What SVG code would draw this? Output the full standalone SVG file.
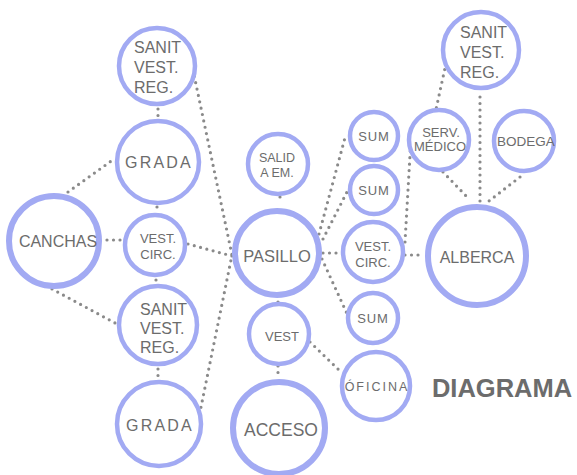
<svg xmlns="http://www.w3.org/2000/svg" width="577" height="475" viewBox="0 0 577 475">
<style>
.n{fill:#fff;stroke:#a2aaf3;stroke-width:4.5}
.b{stroke-width:6}
.t{font-family:"Liberation Sans",Arial,sans-serif;fill:#6c6c6c;text-anchor:middle}
.l{text-anchor:start}
.c{fill:none;stroke:#8a8a8a;stroke-width:3.2;stroke-linecap:round;stroke-dasharray:0 6.5}
</style>
<rect width="577" height="475" fill="#fff"/>
<g id="connectors">
<line class="c" x1="158" y1="109" x2="158" y2="116"/>
<path class="c" d="M193 70 L232 255 L200 412"/>
<line class="c" x1="68" y1="192" x2="114" y2="159"/>
<line class="c" x1="107" y1="240" x2="123" y2="240"/>
<line class="c" x1="52" y1="289" x2="115" y2="323"/>
<line class="c" x1="157" y1="207" x2="157" y2="212"/>
<line class="c" x1="156" y1="280" x2="156" y2="284"/>
<line class="c" x1="158" y1="369" x2="158" y2="377"/>
<line class="c" x1="188" y1="244" x2="232" y2="256"/>
<line class="c" x1="280" y1="197" x2="280" y2="203"/>
<line class="c" x1="278" y1="302" x2="278" y2="309"/>
<line class="c" x1="278" y1="366" x2="278" y2="373"/>
<line class="c" x1="310" y1="342" x2="341" y2="372"/>
<line class="c" x1="319" y1="234" x2="346" y2="134"/>
<line class="c" x1="323" y1="239" x2="348" y2="190"/>
<line class="c" x1="323" y1="253" x2="342" y2="253"/>
<line class="c" x1="322" y1="259" x2="349" y2="318"/>
<line class="c" x1="405" y1="255" x2="424" y2="255"/>
<line class="c" x1="405" y1="242" x2="411" y2="138"/>
<line class="c" x1="435" y1="114" x2="445" y2="68"/>
<line class="c" x1="480" y1="97" x2="480" y2="202"/>
<line class="c" x1="443" y1="172" x2="470" y2="200"/>
<line class="c" x1="520" y1="177" x2="489" y2="201"/>
</g>
<g id="sanit1"><circle class="n" cx="157" cy="66" r="38"/><text class="t l" font-size="16"><tspan x="134" y="53">SANIT</tspan><tspan x="134" y="73">VEST.</tspan><tspan x="134" y="93">REG.</tspan></text></g>
<g id="grada1"><circle class="n" cx="158" cy="162" r="41"/><text class="t" x="159" y="168" font-size="16" letter-spacing="2.2">GRADA</text></g>
<g id="canchas"><circle class="n b" cx="54" cy="241" r="45"/><text class="t" x="58" y="247" font-size="16">CANCHAS</text></g>
<g id="vestcirc1"><circle class="n" cx="155" cy="245" r="30"/><text class="t" font-size="13"><tspan x="158" y="243">VEST.</tspan><tspan x="158" y="259">CIRC.</tspan></text></g>
<g id="sanit2"><circle class="n" cx="158" cy="325" r="39"/><text class="t l" font-size="16"><tspan x="140" y="315">SANIT</tspan><tspan x="140" y="334">VEST.</tspan><tspan x="140" y="353">REG.</tspan></text></g>
<g id="grada2"><circle class="n" cx="159" cy="424" r="42"/><text class="t" x="160" y="431" font-size="16" letter-spacing="2.2">GRADA</text></g>
<g id="salida"><circle class="n" cx="278" cy="164" r="30"/><text class="t" font-size="12.5"><tspan x="277" y="162">SALID</tspan><tspan x="277" y="177">A EM.</tspan></text></g>
<g id="pasillo"><circle class="n b" cx="277" cy="253" r="42"/><text class="t" x="277" y="262" font-size="16.5">PASILLO</text></g>
<g id="vest"><circle class="n" cx="279" cy="334" r="30"/><text class="t" x="282" y="341" font-size="13">VEST</text></g>
<g id="acceso"><circle class="n b" cx="279" cy="428" r="46"/><text class="t" x="281" y="436" font-size="17.5">ACCESO</text></g>
<g id="sum1"><circle class="n" cx="374" cy="136" r="24"/><text class="t" x="374" y="141" font-size="13" letter-spacing="0.8">SUM</text></g>
<g id="sum2"><circle class="n" cx="374" cy="190" r="24"/><text class="t" x="374" y="195" font-size="13" letter-spacing="0.8">SUM</text></g>
<g id="vestcirc2"><circle class="n" cx="373" cy="252" r="30"/><text class="t" font-size="13"><tspan x="373" y="251">VEST.</tspan><tspan x="373" y="267">CIRC.</tspan></text></g>
<g id="sum3"><circle class="n" cx="373" cy="318" r="25"/><text class="t" x="373" y="323" font-size="13" letter-spacing="0.8">SUM</text></g>
<g id="oficina"><circle class="n" cx="376" cy="386" r="34"/><text class="t" x="377" y="391" font-size="12.5" letter-spacing="2">ÓFICINA</text></g>
<g id="servmedico"><circle class="n" cx="439" cy="140" r="30"/><text class="t" font-size="13"><tspan x="441" y="137">SERV.</tspan><tspan x="440" y="151">MÉDICO</tspan></text></g>
<g id="sanit3"><circle class="n" cx="481" cy="50" r="38"/><text class="t l" font-size="16"><tspan x="460" y="38">SANIT</tspan><tspan x="460" y="58">VEST.</tspan><tspan x="460" y="78">REG.</tspan></text></g>
<g id="bodega"><circle class="n" cx="524" cy="141" r="30"/><text class="t" x="526" y="146" font-size="13.5">BODEGA</text></g>
<g id="alberca"><circle class="n b" cx="477" cy="256" r="49"/><text class="t" x="477" y="263" font-size="16">ALBERCA</text></g>
<text class="t" x="502" y="397" font-size="25.5" font-weight="bold" fill="#777">DIAGRAMA</text>
</svg>
